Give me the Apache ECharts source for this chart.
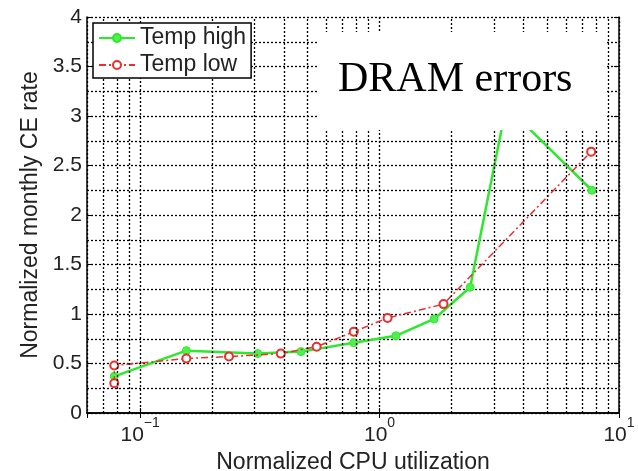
<!DOCTYPE html>
<html>
<head>
<meta charset="utf-8">
<script src="https://cdn.jsdelivr.net/npm/echarts@6/dist/echarts.min.js"></script>
<style>
  html, body { margin: 0; padding: 0; background: #fff; }
  #chart { width: 638px; height: 471px; }
</style>
</head>
<body>
<div id="chart"></div>
<script>
// values
const highX = [0.078, 0.156, 0.31, 0.47, 0.78, 1.17, 1.69, 2.39, 3.38, 7.7];
const highY = [0.37, 0.63, 0.60, 0.62, 0.71, 0.78, 0.95, 1.27, 3.10, 2.25];
const lowX = [0.078, 0.078, 0.156, 0.235, 0.387, 0.546, 0.78, 1.08, 1.85, 7.65];
const lowY = [0.30, 0.48, 0.55, 0.57, 0.60, 0.67, 0.82, 0.96, 1.10, 2.64];
// log minor grid positions
const minorGridX = [0.07, 0.08, 0.09, 0.2, 0.3, 0.4, 0.5, 0.6, 0.7, 0.8, 0.9,
  2, 3, 4, 5, 6, 7, 8, 9];

const zip = (xs, ys) => xs.map((x, i) => [x, ys[i]]);

const gridLine = { color: "#000", width: 1.3, type: [2, 2] };
const labelFont = "Liberation Sans";

const chart = echarts.init(document.getElementById("chart"));
chart.setOption({
  animation: false,
  grid: {
    left: 87,
    right: 19,
    top: 17,
    bottom: 58,
    outerBoundsMode: "none",
  },
  legend: {
    data: ["Temp high", "Temp low"],
    orient: "vertical",
    left: 93,
    top: 23,
    padding: [3, 5, 1, 5],
    itemGap: 3,
    itemWidth: 36,
    itemHeight: 10,
    backgroundColor: "#fff",
    borderColor: "#000",
    borderWidth: 1.5,
    borderRadius: 0,
    z: 50,
    textStyle: {
      fontFamily: labelFont,
      fontSize: 23,
      lineHeight: 24,
      color: "#222",
    },
  },
  xAxis: [
    {
      type: "log",
      logBase: 10,
      min: 0.06,
      max: 10,
      name: "Normalized CPU utilization",
      nameLocation: "middle",
      nameGap: 33,
      nameTextStyle: { fontFamily: labelFont, fontSize: 23, color: "#222" },
      axisLine: { lineStyle: { color: "#000", width: 1.5 } },
      axisTick: { inside: true, length: 5, lineStyle: { color: "#000" } },
      splitLine: { show: true, lineStyle: gridLine },
      axisLabel: {
        showMinLabel: false,
        margin: 3,
        formatter(val) {
          const e = Math.round(Math.log10(val));
          return "{b|10}{s|" + (e < 0 ? "−" + -e : e) + "}";
        },
        rich: {
          b: { fontFamily: labelFont, fontSize: 21, lineHeight: 30, verticalAlign: "bottom", color: "#222" },
          s: { fontFamily: labelFont, fontSize: 14, lineHeight: 14, verticalAlign: "top", color: "#222" },
        },
      },
    },
    {
      type: "log",
      logBase: 10,
      min: 0.06,
      max: 10,
      position: "top",
      axisLine: { lineStyle: { color: "#000", width: 1.5 } },
      axisTick: { inside: true, length: 5, lineStyle: { color: "#000" } },
      axisLabel: { show: false },
      splitLine: { show: false },
    },
  ],
  yAxis: [
    {
      type: "value",
      min: 0,
      max: 4,
      interval: 0.5,
      name: "Normalized monthly CE rate",
      nameLocation: "middle",
      nameGap: 42,
      nameTextStyle: { fontFamily: labelFont, fontSize: 23, color: "#222" },
      axisLine: { show: true, lineStyle: { color: "#000", width: 1.5 } },
      axisTick: { show: true, inside: true, length: 5, lineStyle: { color: "#000" } },
      axisLabel: { fontFamily: labelFont, fontSize: 21, color: "#222", margin: 5 },
      splitLine: { show: true, lineStyle: gridLine },
      minorTick: { show: false, splitNumber: 2 },
      minorSplitLine: { show: true, lineStyle: gridLine },
    },
    {
      type: "value",
      min: 0,
      max: 4,
      interval: 0.5,
      position: "right",
      axisLine: { show: true, lineStyle: { color: "#000", width: 1.5 } },
      axisTick: { show: true, inside: true, length: 5, lineStyle: { color: "#000" } },
      axisLabel: { show: false },
      splitLine: { show: false },
    },
  ],
  series: [
    {
      // carries the minor vertical grid lines of the log axis
      name: "grid",
      type: "line",
      data: [],
      z: 1,
      silent: true,
      markLine: {
        silent: true,
        symbol: "none",
        label: { show: false },
        lineStyle: gridLine,
        emphasis: { disabled: true },
        data: minorGridX.map((x) => ({ xAxis: x })),
      },
    },
    {
      name: "Temp high",
      type: "line",
      data: zip(highX, highY),
      symbol: "circle",
      symbolSize: 8,
      color: "#2ee82e",
      lineStyle: { color: "#2ee82e", width: 2.5 },
      itemStyle: { color: "#4ef04e", borderColor: "#2ee82e", borderWidth: 1 },
      z: 3,
    },
    {
      name: "Temp low",
      type: "line",
      data: zip(lowX, lowY),
      symbol: "emptyCircle",
      symbolSize: 8,
      color: "#e8302e",
      lineStyle: { color: "#e8302e", width: 1.5, type: [7, 3, 2, 3] },
      itemStyle: { color: "#e8302e", borderColor: "#e8302e", borderWidth: 1.8 },
      z: 4,
    },
  ],
  graphic: [
    {
      type: "rect",
      left: 318,
      top: 32,
      shape: { width: 287, height: 98 },
      style: { fill: "#fff" },
      z: 100,
    },
    {
      type: "text",
      left: 338,
      top: 59,
      style: {
        text: "DRAM errors",
        font: '42px "Liberation Serif", "Times New Roman", serif',
        fill: "#000",
      },
      z: 101,
    },
  ],
});
</script>
</body>
</html>
